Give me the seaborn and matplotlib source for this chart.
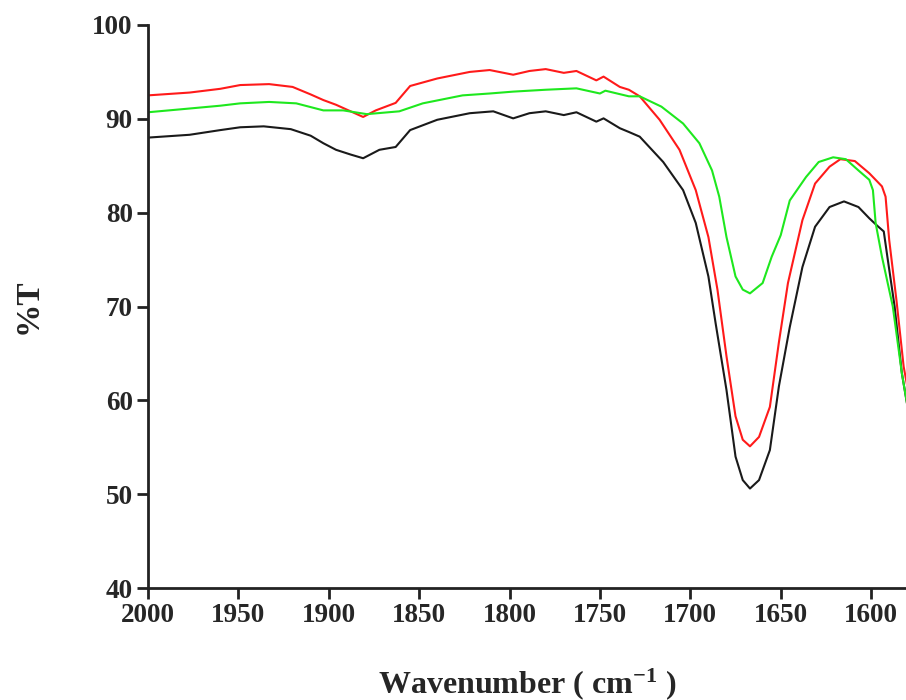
import numpy as np
import pandas as pd
import matplotlib
matplotlib.use("Agg")
import matplotlib.pyplot as plt
import seaborn as sns

black_x = [2000, 1977, 1960, 1949, 1936, 1921, 1910, 1903, 1896, 1888, 1881, 1872, 1863, 1855, 1840, 1822,
           1809, 1798, 1789, 1780, 1770, 1763, 1752, 1748, 1739, 1734, 1728, 1715, 1704, 1697, 1690, 1686,
           1680, 1675, 1671, 1667, 1662, 1656, 1651, 1645, 1638, 1631, 1623, 1615, 1607, 1601, 1596, 1593,
           1591, 1587, 1583, 1580]
black_y = [88.0, 88.3, 88.8, 89.1, 89.2, 88.9, 88.2, 87.4, 86.7, 86.2, 85.8, 86.7, 87.0, 88.8, 89.9, 90.6,
           90.8, 90.05, 90.6, 90.8, 90.4, 90.7, 89.7, 90.05, 89.0, 88.6, 88.1, 85.4, 82.4, 78.9, 73.2, 68.2,
           61.1, 54.0, 51.5, 50.6, 51.5, 54.7, 61.5, 67.8, 74.2, 78.5, 80.6, 81.2, 80.6, 79.4, 78.5, 78.0,
           75.3, 70.0, 62.9, 59.5]

red_x = [2000, 1977, 1960, 1949, 1933, 1920, 1910, 1903, 1896, 1881, 1874, 1863, 1855, 1840, 1822, 1811,
         1798, 1789, 1780, 1770, 1763, 1752, 1748, 1739, 1734, 1728, 1717, 1706, 1697, 1690, 1685, 1680,
         1675, 1671, 1667, 1662, 1656, 1651, 1646, 1638, 1631, 1623, 1617, 1609, 1601, 1594, 1592, 1590,
         1586, 1582, 1580]
red_y = [92.5, 92.8, 93.2, 93.6, 93.7, 93.4, 92.6, 92.0, 91.5, 90.2, 90.9, 91.7, 93.5, 94.3, 95.0, 95.2,
         94.7, 95.1, 95.3, 94.9, 95.1, 94.1, 94.5, 93.4, 93.1, 92.4, 89.9, 86.7, 82.4, 77.4, 71.8, 64.7,
         58.3, 55.8, 55.1, 56.1, 59.3, 66.2, 72.5, 79.2, 83.1, 84.9, 85.7, 85.5, 84.2, 82.8, 81.7, 77.1,
         70.7, 63.6, 61.5]

green_x = [2000, 1977, 1960, 1949, 1933, 1918, 1903, 1892, 1879, 1861, 1848, 1826, 1811, 1798, 1780, 1763,
           1750, 1747, 1734, 1728, 1716, 1704, 1695, 1688, 1684, 1680, 1675, 1671, 1667, 1660, 1655, 1650,
           1645, 1636, 1629, 1621, 1614, 1607, 1601, 1599, 1597.5, 1594, 1588, 1583, 1580]
green_y = [90.7, 91.1, 91.4, 91.65, 91.8, 91.65, 90.9, 90.9, 90.5, 90.8, 91.65, 92.5, 92.7, 92.9, 93.1, 93.25,
           92.7, 93.0, 92.4, 92.4, 91.3, 89.5, 87.4, 84.5, 81.7, 77.4, 73.2, 71.8, 71.4, 72.5, 75.3, 77.6,
           81.3, 83.8, 85.4, 85.9, 85.7, 84.5, 83.5, 82.4, 78.9, 75.3, 70.0, 62.9, 59.5]

x_ticks = [2000, 1950, 1900, 1850, 1800, 1750, 1700, 1650, 1600]
y_ticks = [40, 50, 60, 70, 80, 90, 100]

df = pd.concat([
    pd.DataFrame({"x": black_x, "y": black_y, "s": "black"}),
    pd.DataFrame({"x": red_x, "y": red_y, "s": "red"}),
    pd.DataFrame({"x": green_x, "y": green_y, "s": "green"}),
])

sns.set_style("ticks")
plt.rcParams["font.family"] = ["Liberation Serif", "DejaVu Serif"]
plt.rcParams["font.weight"] = "bold"
plt.rcParams["mathtext.fontset"] = "custom"
plt.rcParams["mathtext.rm"] = "Liberation Serif:bold"
plt.rcParams["mathtext.bf"] = "Liberation Serif:bold"
plt.rcParams["mathtext.default"] = "bf"

fig = plt.figure(figsize=(9.06, 7.0), dpi=100)
ax = fig.add_axes([148 / 906, 112 / 700, 758 / 906, 563 / 700])
sns.lineplot(data=df, x="x", y="y", hue="s", estimator=None, sort=True,
             palette={"black": "#1a1a1a", "red": "#ff1a1a", "green": "#1ee81e"},
             linewidth=1.5, legend=False, ax=ax)

ax.set_xlim(2000, 1580.7)
ax.set_ylim(40, 100)
ax.set_xticks(x_ticks)
ax.set_yticks(y_ticks)
ax.set_xticklabels([str(v) for v in x_ticks], fontsize=19.5, fontweight="bold")
ax.set_yticklabels([str(v) for v in y_ticks], fontsize=19.5, fontweight="bold")
ax.tick_params(axis="both", direction="out", length=8, width=2, color="#222222", pad=3)
for sp in ["top", "right"]:
    ax.spines[sp].set_visible(False)
for sp in ["left", "bottom"]:
    ax.spines[sp].set_linewidth(2)
    ax.spines[sp].set_color("#222222")

ax.set_xlabel("Wavenumber ( cm$^{-1}$ )", fontsize=23, fontweight="bold", labelpad=27)
ax.set_ylabel("%T", fontsize=24, fontweight="bold", labelpad=35)

fig.savefig("out.png", dpi=100)
